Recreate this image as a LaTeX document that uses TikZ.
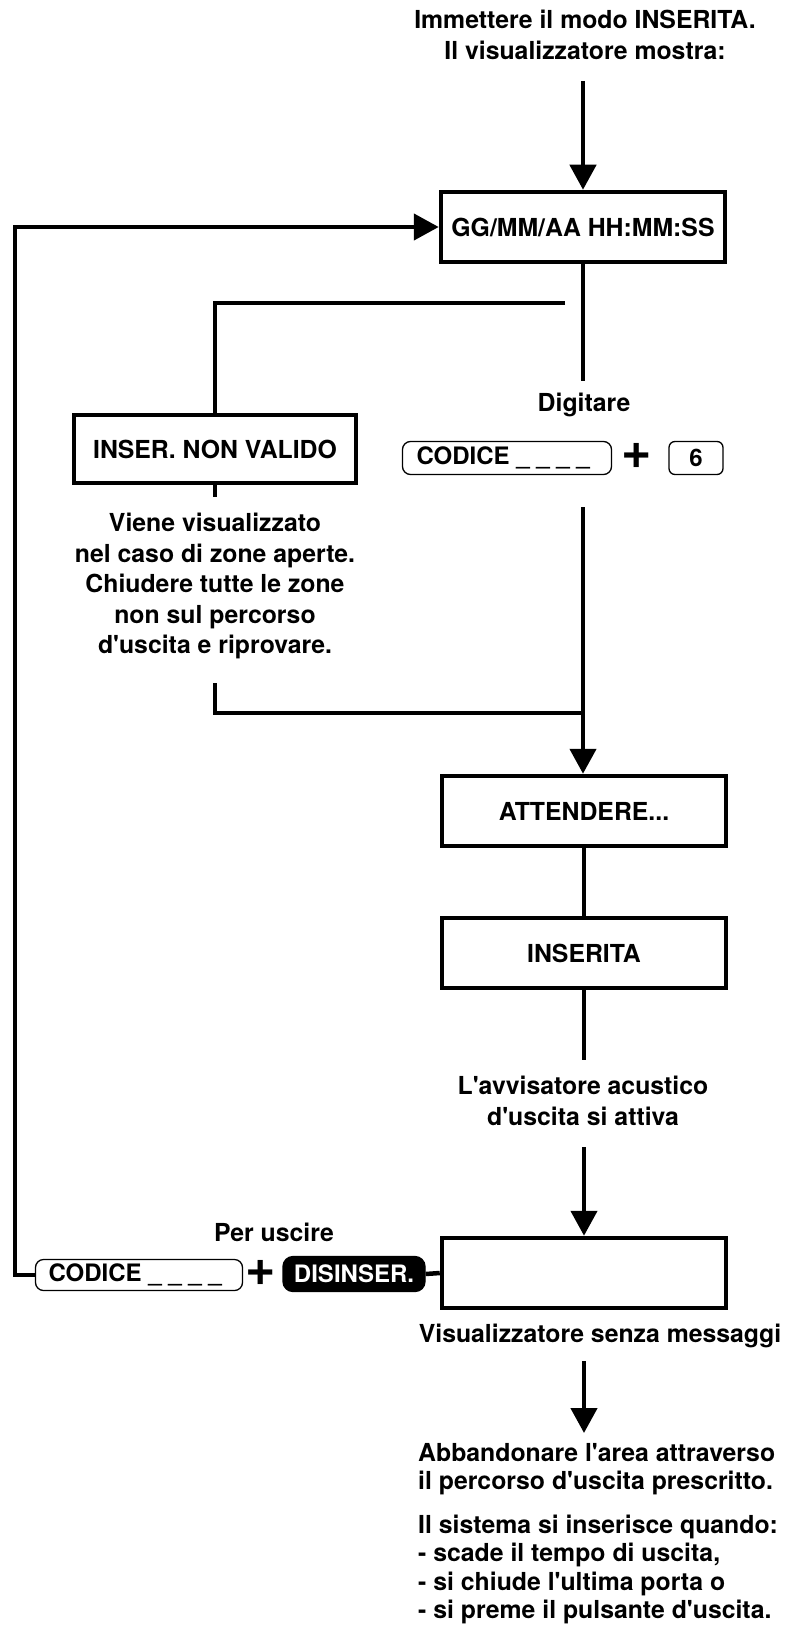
\documentclass[tikz,border=0pt]{standalone}
\usepackage{fontspec}
\setmainfont{TeX Gyre Heros}
\usetikzlibrary{arrows.meta}
\newcommand\ap{\textquotesingle}
\newcommand\codetext{\makebox[181pt][l]{CODICE \_ \_ \_ \_}}
\tikzset{
  flow/.style={line width=4.5pt},
  arr/.style={flow,-{Triangle[width=26pt,length=25pt]}},
  scrbox/.style={draw,line width=4.5pt,minimum width=284pt,minimum height=70pt,inner sep=0pt},
  keybox/.style={draw,line width=1.3pt,rounded corners=8pt,minimum height=33pt,inner sep=0pt,
    font=\fontsize{24}{28}\selectfont\bfseries},
  txt/.style={align=center,inner sep=0pt},
  bigplus/.style={txt,font=\fontsize{52}{52}\selectfont\bfseries},
}
\begin{document}
\begin{tikzpicture}[x=1pt,y=-1pt,font=\fontsize{24.8}{31}\selectfont\bfseries]
      \useasboundingbox (0,0) rectangle (798,1637);
      % screens
      \node[scrbox] (data) at (583,227) {GG/MM/AA HH:MM:SS};
      \node[scrbox,minimum width=282pt,minimum height=68pt] (inval) at (215,449) {INSER. NON VALIDO};
      \node[scrbox] (wait) at (584,811) {ATTENDERE...};
      \node[scrbox] (armed) at (584,953) {INSERITA};
      \node[scrbox] (blank) at (584,1273) {};
      % texts
      \node[txt] (intro) at (585,35) {Immettere il modo INSERITA.\\Il visualizzatore mostra:};
      \node[txt] (digit) at (584,405) {Digitare};
      \node[txt,font=\fontsize{24.8}{30.5}\selectfont\bfseries] (info) at (215,586)
        {Viene visualizzato\\nel caso di zone aperte.\\Chiudere tutte le zone\\non sul percorso\\d\ap uscita e riprovare.};
      \node[txt] (beep) at (583,1101) {L\ap avvisatore acustico\\d\ap uscita si attiva};
      \node[txt] (quit) at (274,1232) {Per uscire};
      \node[txt] (nomsg) at (600,1336) {Visualizzatore senza messaggi};
      \node[txt,align=left,anchor=north west,font=\fontsize{24.8}{28.5}\selectfont\bfseries] (leave) at (418,1443)
        {Abbandonare l\ap area attraverso\\il percorso d\ap uscita prescritto.\\[15pt]
         Il sistema si inserisce quando:\\- scade il tempo di uscita,\\- si chiude l\ap ultima porta o\\- si preme il pulsante d\ap uscita.};
      % keys
      \node[keybox,minimum width=209pt] (code) at (507,458) {\codetext};
      \node[bigplus] (plus) at (637,456) {+};
      \node[keybox,rounded corners=6pt,minimum width=54pt] (six) at (696,458) {6};
      \node[keybox,minimum width=207pt,minimum height=31pt] (code2) at (139,1275) {\codetext};
      \node[bigplus] (plus2) at (261,1273) {+};
      \node[keybox,fill=black,text=white,rounded corners=10pt,minimum width=142pt,minimum height=35pt] (off) at (354,1274) {DISINSER.};
      % free ends
      \coordinate (a1) at (583,81);
      \coordinate (d1) at (583,381);
      \coordinate (b1) at (565,303);
      \coordinate (s1) at (215,497);
      \coordinate (r1) at (215,683);
      \coordinate (r2) at (583,713);
      \coordinate (m1) at (583,507);
      \coordinate (e1) at (584,1060);
      \coordinate (e2) at (584,1147);
      \coordinate (n1) at (584,1361);
      \coordinate (n2) at (584,1433);
      \coordinate (fb) at (15,1275);
      % connectors
      \draw[arr] (a1) -- (data.north);
      \draw[flow] (data.south -| d1) -- (d1);
      \draw[flow] (b1) -| (inval.north);
      \draw[flow] (inval.south) -- (s1);
      \draw[flow] (r1) |- (r2);
      \draw[arr] (m1) -- (wait.north -| m1);
      \draw[flow] (wait) -- (armed);
      \draw[flow] (armed.south) -- (e1);
      \draw[arr] (e2) -- (blank.north);
      \draw[flow] (off.east) -- (blank.west);
      \draw[arr] (n1) -- (n2);
      \draw[arr] (code2.west) -- (fb) |- (data.west);
    \end{tikzpicture}
\end{document}
